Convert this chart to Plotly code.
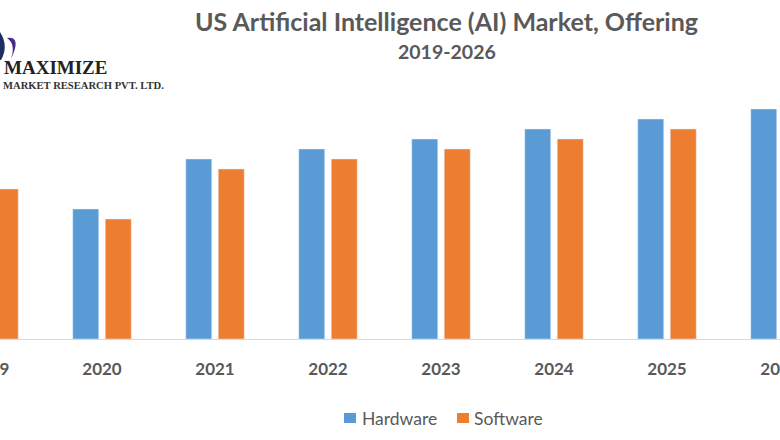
import plotly.graph_objects as go

years = ['2019', '2020', '2021', '2022', '2023', '2024', '2025', '2026']
hardware = [16, 13, 18, 19, 20, 21, 22, 23]
software = [15, 12, 17, 18, 19, 20, 21, 22]

HW_COLOR = '#5b9bd5'
SW_COLOR = '#ed7d31'
TEXT_GRAY = '#595959'

W, H = 780, 440
BASE_Y = 339       # pixel row of the axis line
STEP = 113         # px between two years
FIRST = -11        # px position of 2019, it sits just off the page

x_idx = list(range(len(years)))
x_range = [-FIRST / STEP, (W - FIRST) / STEP]


# paper coords are relative to the plot area, which is W wide and BASE_Y tall
def px(v):
    return v / W


def py(v):
    return 1 - v / BASE_Y


fig = go.Figure()
fig.add_trace(go.Bar(x=x_idx, y=hardware, name='Hardware', marker_color=HW_COLOR))
fig.add_trace(go.Bar(x=x_idx, y=software, name='Software', marker_color=SW_COLOR))


def add_text(text, x, y, size, color=TEXT_GRAY, family='Lato', anchor='center'):
    fig.add_annotation(text=text, x=px(x), y=py(y), xref='paper', yref='paper',
                       showarrow=False, xanchor=anchor, yanchor='middle',
                       font=dict(family=family, size=size, color=color))


# titles
add_text('<b>US Artificial Intelligence (AI) Market, Offering</b>', 447, 21, 25)
add_text('<b>2019-2026</b>', 447, 51, 19.5)

# 2019 tick is left of the axis range so plotly drops it, label goes here instead
add_text('<b>' + years[0] + '</b>', FIRST, 369, 17)

# legend, plotly's own one leaves too much space after the swatch
for name, color, sx, tx in [('Hardware', HW_COLOR, 344, 360), ('Software', SW_COLOR, 457, 472)]:
    fig.add_shape(type='rect', xref='paper', yref='paper', line_width=0, fillcolor=color,
                  x0=px(sx), x1=px(sx + 12), y0=py(423), y1=py(413))
    add_text(name, tx, 418, 17.5, anchor='left')

# logo
add_text('<b>MAXIMIZE</b>', 2, 68, 19, color='#222222', family='Liberation Serif', anchor='left')
add_text('<b>MARKET RESEARCH PVT. LTD.</b>', 1, 85, 10.6, color='#333333',
         family='Liberation Serif', anchor='left')
fig.add_shape(type='path', xref='paper', yref='paper', line_width=0, fillcolor='#4b2a8c',
              path='M %f %f Q %f %f %f %f Q %f %f %f %f Z' % (
                  px(7), py(38), px(22), py(36), px(11), py(59),
                  px(16), py(44), px(7), py(38)))
fig.add_shape(type='path', xref='paper', yref='paper', line_width=0, fillcolor='#1c2f5e',
              path='M %f %f Q %f %f %f %f L %f %f Z' % (
                  px(0), py(32), px(9), py(46), px(1), py(60), px(0), py(60)))

fig.update_layout(
    width=W, height=H,
    margin=dict(l=0, r=0, t=0, b=H - BASE_Y, autoexpand=False),
    paper_bgcolor='white', plot_bgcolor='white',
    barmode='group', bargap=0.425, bargroupgap=0.2,
    showlegend=False,
    xaxis=dict(range=x_range, tickmode='array', tickvals=x_idx,
               ticktext=['<b>' + y + '</b>' for y in years],
               showgrid=False, zeroline=False, showline=True, linecolor='#d9d9d9',
               linewidth=1, ticks='', ticklabelstandoff=15, ticklabeloverflow='allow',
               tickfont=dict(family='Lato', size=17, color=TEXT_GRAY)),
    yaxis=dict(range=[0, BASE_Y / 10], visible=False),
)

fig.write_html("out.html", config={'displayModeBar': False},
               post_script="document.body.style.margin = '0';")
